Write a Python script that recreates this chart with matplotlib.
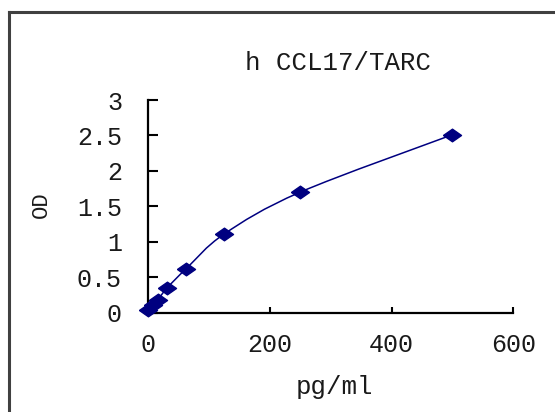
import matplotlib
matplotlib.use("Agg")
import matplotlib.pyplot as plt
from matplotlib.path import Path
from matplotlib.patches import PathPatch
from matplotlib.lines import Line2D
import numpy as np

conc = [0, 7.8, 15.6, 31.25, 62.5, 125, 250, 500]
od = [0.03, 0.10, 0.18, 0.35, 0.62, 1.11, 1.70, 2.51]
xticks = [0, 200, 400, 600]
yticks = [0, 0.5, 1, 1.5, 2, 2.5, 3]
ytick_labels = ["0", "0.5", "1", "1.5", "2", "2.5", "3"]
title = "h CCL17/TARC"
xlabel = "pg/ml"
ylabel = "OD"

W, H = 555, 412
fig = plt.figure(figsize=(W / 100, H / 100), dpi=100)
font = "Liberation Mono"
fs = 18
tcol = "#1a1a1a"

ax = fig.add_axes([148.3 / W, 1 - 312.5 / H, (513.3 - 148.3) / W, (312.5 - 100) / H])
ax.set_xlim(0, 600)
ax.set_ylim(0, 3)
for s in ["top", "right"]:
    ax.spines[s].set_visible(False)
for s in ["left", "bottom"]:
    ax.spines[s].set_linewidth(1.6)
    ax.spines[s].set_color("black")
ax.set_xticks(xticks)
ax.set_xticklabels([str(v) for v in xticks], fontfamily=font, fontsize=fs, color=tcol)
ax.set_yticks(yticks)
ax.set_yticklabels(ytick_labels, fontfamily=font, fontsize=fs, color=tcol)
ax.tick_params(axis="x", direction="in", length=4, width=1.5, pad=15)
ax.tick_params(axis="y", direction="in", length=7, width=1.5, pad=19)

# smooth line (Excel-style smoothed) via Bezier path
pts = np.column_stack([conc, od])
n = len(pts)
verts = [pts[0]]
codes = [Path.MOVETO]
for i in range(n - 1):
    p0 = pts[i - 1] if i > 0 else pts[i]
    p1 = pts[i]
    p2 = pts[i + 1]
    p3 = pts[i + 2] if i + 2 < n else pts[i + 1]
    c1 = p1 + (p2 - p0) / 6.0
    c2 = p2 - (p3 - p1) / 6.0
    verts += [c1, c2, p2]
    codes += [Path.CURVE4] * 3
ax.add_patch(PathPatch(Path(verts, codes), fill=False, edgecolor="#000080", linewidth=1.1, zorder=2))
diamond = [(-1, 0), (0, 0.7), (1, 0), (0, -0.7), (-1, 0)]
ax.plot(conc, od, linestyle="none", marker=diamond, markersize=13, color="#000080",
        zorder=3, clip_on=False)

fig.text(338 / W, 1 - 63 / H, title, ha="center", va="center", fontfamily=font,
         fontsize=18.5, color=tcol)
fig.text(334 / W, 1 - 387 / H, xlabel, ha="center", va="center", fontfamily=font,
         fontsize=18.5, color=tcol)
fig.text(41 / W, 1 - 205 / H, ylabel, ha="center", va="center", rotation=90,
         fontfamily=font, fontsize=16, color=tcol)

# outer border (extends beyond the right/bottom edge)
fig.add_artist(Line2D([9 / W, 1.0], [1 - 12 / H, 1 - 12 / H], color="#404040", linewidth=2.2))
fig.add_artist(Line2D([9 / W, 9 / W], [1 - 12 / H, 0.0], color="#404040", linewidth=2.2))

fig.savefig("out.png", dpi=100)
